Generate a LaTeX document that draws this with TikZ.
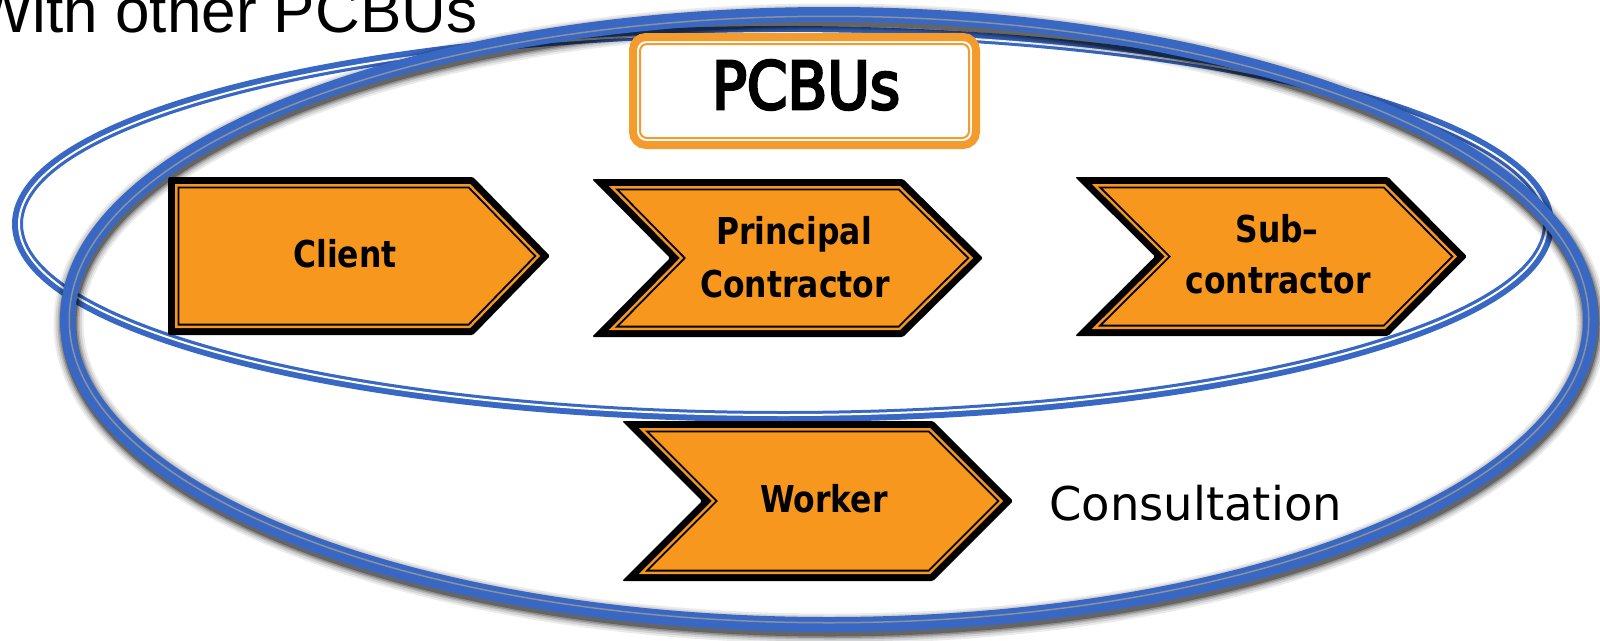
\documentclass[tikz,border=0pt]{standalone}
\usepackage{fontspec}
\setmainfont{DejaVu Sans}
\newfontfamily\chevfont[FakeStretch=0.85]{DejaVu Sans}
\newfontfamily\headfont[FakeStretch=0.88,FakeBold=4]{DejaVu Sans}
\newfontfamily\arialfont{Liberation Sans}

\definecolor{ringblue}{RGB}{56,104,196}
\definecolor{chevorange}{RGB}{247,151,30}
\definecolor{boxorange}{RGB}{243,156,45}
\definecolor{ringgray}{RGB}{140,145,155}

% polygon of an arrow/chevron, inset by #8
% #1 options, #2 left x, #3 notch x, #4 shoulder x, #5 tip x, #6 top y, #7 bottom y
\newcommand\chevpoly[8]{%
  \pgfmathsetmacro\chvK{(#3>#2)?1:0}%
  \pgfmathsetmacro\chvA{#2+#8+\chvK*1.414*#8}%
  \pgfmathsetmacro\chvN{#3+#8+\chvK*0.414*#8}%
  \pgfmathsetmacro\chvC{#4-0.414*#8}%
  \pgfmathsetmacro\chvT{#5-1.414*#8}%
  \pgfmathsetmacro\chvU{#6+#8}%
  \pgfmathsetmacro\chvD{#7-#8}%
  \pgfmathsetmacro\chvM{(#6+#7)/2}%
  \path[#1] (\chvA,\chvU) -- (\chvC,\chvU) -- (\chvT,\chvM) -- (\chvC,\chvD)
    -- (\chvA,\chvD) -- (\chvN,\chvM) -- cycle;
}
\newcommand\drawchevron[6]{%
  \chevpoly{fill=black,rounded corners=1.5pt}{#1}{#2}{#3}{#4}{#5}{#6}{0}
  \chevpoly{fill=chevorange}{#1}{#2}{#3}{#4}{#5}{#6}{7}
  \chevpoly{draw=black,line width=1.8pt,line join=miter}{#1}{#2}{#3}{#4}{#5}{#6}{10.4}
}

\begin{document}
\begin{tikzpicture}[x=1pt,y=-1pt,
  chevtext/.style={inner sep=0pt,anchor=base,font=\chevfont\bfseries\fontsize{37}{52}\selectfont},
  every node/.style={inner sep=0pt}]
\useasboundingbox (0,0) rectangle (1600,640);
\clip (0,0) rectangle (1600,640);

% heading, partly off the top-left edge
\node[anchor=base west,font=\arialfont\fontsize{62}{70}\selectfont] (withother) at (-26,32) {With other PCBUs};

% inner (thin) ring
\coordinate (smallc) at (783,224);
\draw[ringblue,line width=11pt] (smallc) ellipse [x radius=765.5pt, y radius=192.5pt];
\draw[white,line width=2pt] (smallc) ellipse [x radius=764pt, y radius=191pt];

% outer (thick) ring with soft shadow
\coordinate (bigc) at (829,319.5);
\foreach \w/\o in {30/0.08,26/0.1,22/0.14,19/0.2,16/0.3}
  \draw[black,opacity=\o,line width=\w pt] ([shift={(1,4)}]bigc) ellipse [x radius=761.5pt, y radius=305pt];
\draw[ringblue,line width=15pt] (bigc) ellipse [x radius=761.5pt, y radius=305pt];
\draw[ringgray,line width=1.5pt] (bigc) ellipse [x radius=759.75pt, y radius=303.25pt];

% chevrons
\drawchevron{168}{168}{473}{550}{177}{335}
\drawchevron{592}{670}{903}{983}{179}{337}
\drawchevron{1075}{1155}{1388}{1467}{177}{336}
\drawchevron{622}{702}{933}{1013}{421}{581}

\node[chevtext] (client) at (345,267) {Client};
\node[chevtext] (principal) at (794,244) {Principal};
\node[chevtext] (contractor) at (795,297) {Contractor};
\node[chevtext] (sub) at (1277,242) {Sub\textendash};
\node[chevtext] (subcontractor) at (1278,293) {contractor};
\node[chevtext] (worker) at (824,512) {Worker};

% title box
\draw[boxorange,line width=8pt,fill=white,rounded corners=13pt] (633,37) rectangle (976,145);
\draw[boxorange,line width=2pt,rounded corners=7pt] (640,44) rectangle (969,138);
\node[anchor=base,font=\headfont\fontsize{66}{72}\selectfont] (pcbus) at (806,109) {PCBUs};

\node[anchor=base west,font=\fontsize{46.5}{56}\selectfont] (consult) at (1049,520) {Consultation};
\end{tikzpicture}
\end{document}
